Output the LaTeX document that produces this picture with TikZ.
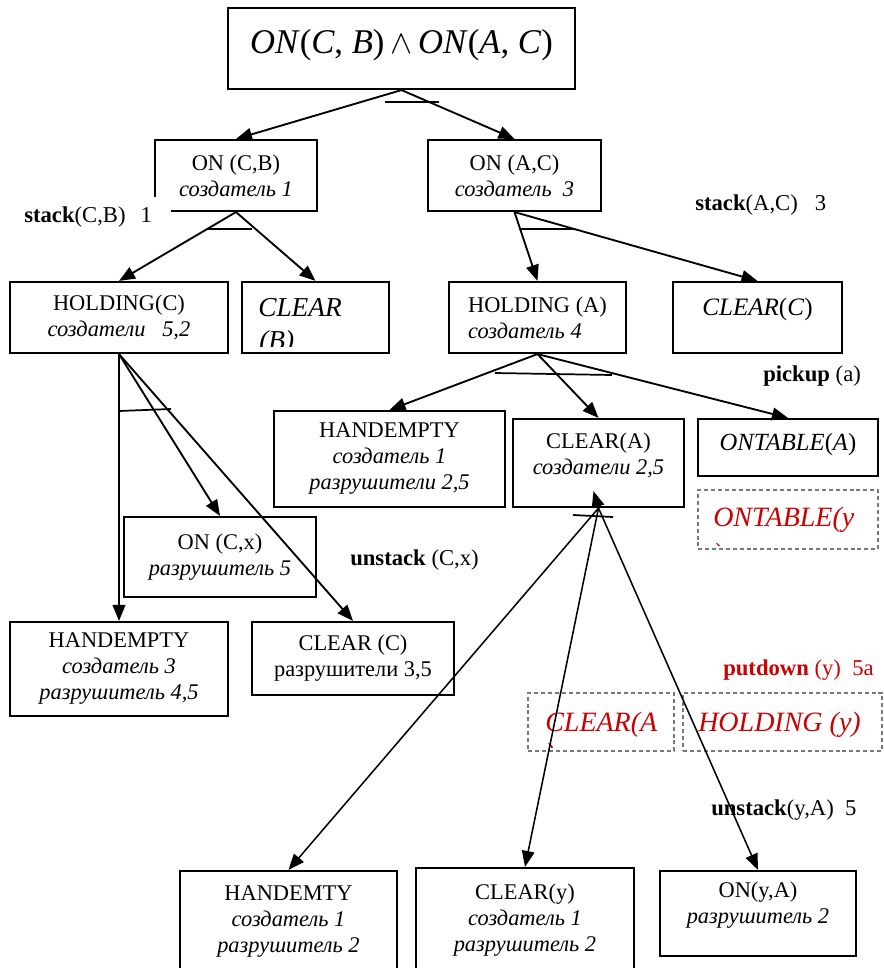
\documentclass[tikz,border=0pt]{standalone}
\usepackage{fontspec}
\setmainfont{Liberation Serif}
\usetikzlibrary{arrows.meta,calc}
\definecolor{redc}{RGB}{204,0,0}
\definecolor{dashg}{RGB}{120,120,120}
\newcommand\mybox[7][]{\node[box,#1,minimum width={(#5-#3)*0.75pt},minimum height={(#6-#4)*0.75pt}] (#2) at ({(#3+#5)/2},{(#4+#6)/2}) {#7};}
\begin{document}
\begin{tikzpicture}[x=0.75pt,y=-0.75pt,
 box/.style={draw,line width=1.6pt,inner sep=0pt,align=center,font=\fontsize{16.8}{19.5}\selectfont},
 dbox/.style={draw=dashg,line width=0.9pt,dash pattern=on 3pt off 2.2pt},
 conn/.style={line width=1.4pt,-{Triangle[length=12pt,width=9.5pt]}},
 thinconn/.style={line width=1.15pt,-{Triangle[length=12pt,width=9.5pt]}},
 tick/.style={line width=1.3pt},
 lab/.style={inner sep=0pt,anchor=west,font=\fontsize{17}{20}\selectfont},
 redtxt/.style={inner sep=0pt,anchor=base west,text=redc,font=\fontsize{21}{24}\selectfont\itshape},
 bigit/.style={inner sep=0pt,anchor=base west,font=\fontsize{20.5}{24}\selectfont\itshape},
 txt/.style={inner sep=0pt,align=center,font=\fontsize{16.8}{19.5}\selectfont}
]
\useasboundingbox (0,0) rectangle (883,968);

% boxes
\mybox[font=\fontsize{26}{30}\selectfont,text height=20pt,text depth=12.6pt]{top}{228}{8}{575}{89}{\textit{ON}(\textit{C}, \textit{B})\,$\wedge$\,\textit{ON}(\textit{A}, \textit{C})}
\mybox{onCB}{155}{140}{317}{211}{ON (C,B)\\\textit{создатель 1}}
\mybox{onAC}{428}{140}{601}{211}{ON (A,C)\\\textit{создатель\ \ 3}}
\mybox{holdC}{10}{282}{228}{353}{HOLDING(C)\\\textit{создатели\ \ \ 5,2}}
\mybox{clrB}{242}{282}{389}{353}{}
\mybox[align=left]{holdA}{449}{282}{626}{353}{HOLDING (A)\\\textit{создатель 4}}
\mybox[font=\fontsize{18.8}{22}\selectfont,text height=14pt,text depth=17.3pt]{clrC}{673}{282}{842}{353}{\textit{CLEAR}(\textit{C})}
\mybox{hempM}{274}{411}{505}{507}{HANDEMPTY\\\textit{создатель 1}\\\textit{разрушители 2,5}}
\mybox{clrA}{513}{419}{684}{507}{}
\node[txt] (clrAt) at (598.5,455) {CLEAR(A)\\\textit{создатели 2,5}};
\mybox[font=\fontsize{18.5}{22}\selectfont,text height=14pt,text depth=10.1pt]{ontA}{698}{419}{878}{476}{\textit{ONTABLE}(\textit{A})}
\mybox[dbox]{ontY}{698}{490}{878}{549}{}
\mybox{onCx}{124}{517}{316}{597}{ON (C,x)\\\textit{разрушитель 5}}
\mybox{hempL}{10}{622}{228}{716}{HANDEMPTY\\\textit{создатель 3}\\\textit{разрушитель 4,5}}
\mybox{clrCl}{252}{622}{454}{695}{CLEAR (C)\\разрушители 3,5}
\mybox[dbox]{clrAr}{528}{693}{674}{751}{}
\mybox[dbox]{holdY}{683}{693}{882}{751}{}
\mybox{hempB}{180}{871}{397}{972}{HANDEMTY\\\textit{создатель 1}\\\textit{разрушитель 2}}
\mybox{clrY}{416}{868}{634}{972}{CLEAR(y)\\\textit{создатель 1}\\\textit{разрушитель 2}}
\mybox{onYA}{660}{871}{856}{956}{}
\node[txt] (onYAt) at (758,905) {ON(y,A)\\\textit{разрушитель 2}};

% clipped texts
\begin{scope}
\clip (clrB.north west) rectangle ($(clrB.south east)+(0,-8)$);
\node[bigit] (clrBt) at (258,316) {CLEAR};
\node[bigit] (clrBp) at (259,349) {(B)};
\end{scope}
\begin{scope}
\clip (ontY.north west) rectangle ($(ontY.south east)+(0,-4)$);
\node[redtxt] (ontYt) at (713,526) {ONTABLE(y};
\node[redtxt] (ontYp) at (713,562) {)};
\end{scope}
\begin{scope}
\clip (clrAr.north west) rectangle ($(clrAr.south east)+(0,-4)$);
\node[redtxt] (clrArt) at (545,731) {CLEAR(A};
\node[redtxt] (clrArp) at (545,762) {)};
\end{scope}
\node[redtxt] (holdYt) at (698,731) {HOLDING (y)};

% connectors
\draw[conn] (top.south) -- (onCB.north);
\draw[conn] (top.south) -- (onAC.north);
\draw[conn] (onCB.south) -- (holdC.north);
\draw[conn] (onCB.south) -- (clrB.north);
\draw[conn] (onAC.south) -- (holdA.north);
\draw[conn] (onAC.south) -- (clrC.north);
\draw[conn] (holdC.south) -- (hempL.north);
\draw[conn] (holdC.south) -- (onCx.north);
\draw[conn] (holdC.south) -- (clrCl.north);
\draw[conn] (holdA.south) -- (hempM.north);
\draw[conn] (holdA.south) -- (clrA.north);
\draw[conn] (holdA.south) -- (ontA.north);
\coordinate (jtip) at ($(clrA.south)+(-5,-17)$);
\draw[thinconn] (clrA.south) -- (jtip);
\draw[thinconn] (clrA.south) -- (hempB.north);
\draw[thinconn] (clrA.south) -- (clrY.north);
\draw[thinconn] (clrA.south) -- (onYA.north);

% arc ticks
\coordinate (t1a) at (385,102); \coordinate (t1b) at (439,102);
\coordinate (t2a) at (208,229); \coordinate (t2b) at (252,229);
\coordinate (t3a) at (519,229); \coordinate (t3b) at (573,229);
\coordinate (t4a) at (119,411); \coordinate (t4b) at (171,409);
\coordinate (t5a) at (495,373); \coordinate (t5b) at (612,375);
\coordinate (t6a) at (573,515); \coordinate (t6b) at (613,517);
\draw[tick] (t1a) -- (t1b);
\draw[tick] (t2a) -- (t2b);
\draw[tick] (t3a) -- (t3b);
\draw[tick] (t4a) -- (t4b);
\draw[tick] (t5a) -- (t5b);
\draw[tick] (t6a) -- (t6b);

% labels
\node[lab,fill=white,text width=147*0.75pt,minimum height=40*0.75pt,align=left] (lstCB) at (24,217) {\textbf{stack}(C,B)\ \ 1};
\node[lab] (lstAC) at (695,205) {\textbf{stack}(A,C)\ \ \ 3};
\node[lab] (lpick) at (763,376) {\textbf{pickup} (a)};
\node[lab] (lunCx) at (350,560) {\textbf{unstack} (C,x)};
\node[lab,text=redc] (lput) at (723,670) {\textbf{putdown} (y)\ \ 5a};
\node[lab] (lunyA) at (711,810) {\textbf{unstack}(y,A)\ \ 5};
\end{tikzpicture}
\end{document}
